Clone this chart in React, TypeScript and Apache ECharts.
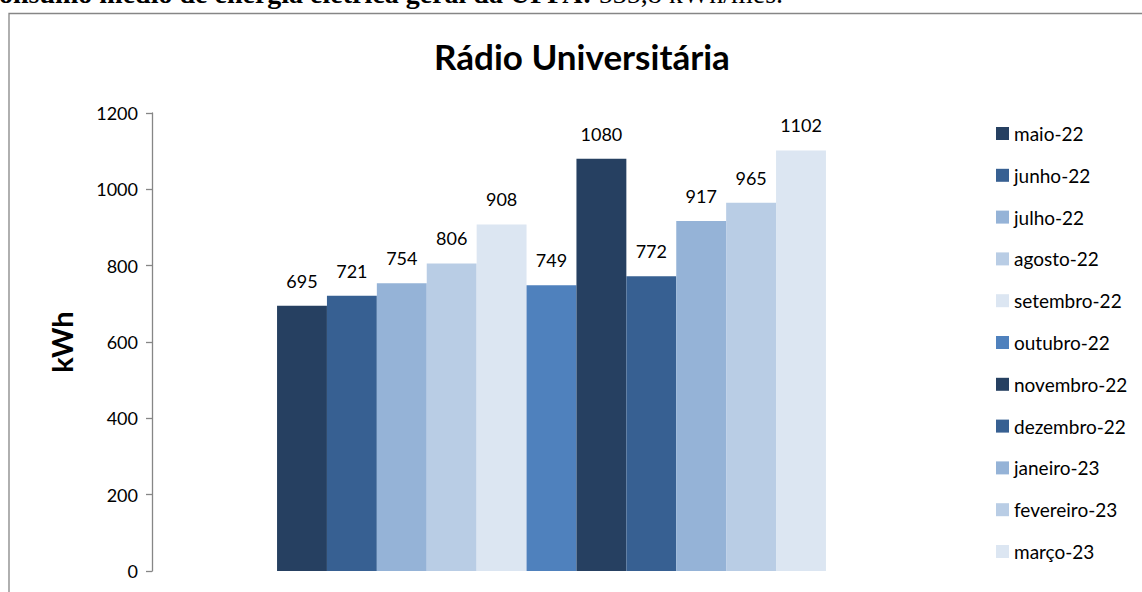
import React, { useEffect, useRef } from "react";
import * as echarts from "echarts";

const months = [
  "maio-22", "junho-22", "julho-22", "agosto-22", "setembro-22", "outubro-22",
  "novembro-22", "dezembro-22", "janeiro-23", "fevereiro-23", "março-23",
];
const values = [695, 721, 754, 806, 908, 749, 1080, 772, 917, 965, 1102];
const colors = [
  "#264061", "#376092", "#95B3D7", "#B9CDE5", "#DCE6F2", "#4F81BD",
  "#264061", "#376092", "#95B3D7", "#B9CDE5", "#DCE6F2",
];
const categories = ["Rádio Universitária"];
const yTicks = { min: 0, max: 1200, interval: 200 };

const FONT = "Lato";

export default function App() {
  const ref = useRef<HTMLDivElement>(null);
  useEffect(() => {
    document.body.style.margin = "0";
    const chart = echarts.init(ref.current!, null, { renderer: "svg" });
    chart.setOption({
      animation: false,
      backgroundColor: "#fff",
      textStyle: { fontFamily: FONT },
      title: {
        text: "Rádio Universitária",
        left: 577,
        top: 33,
        textAlign: "center",
        textStyle: { fontFamily: FONT, fontSize: 35, fontWeight: "bold", color: "#000" },
      },
      graphic: [
        {
          type: "rect",
          shape: { x: 9, y: 13.5, width: 1200, height: 700 },
          style: { fill: "none", stroke: "#868686", lineWidth: 1.3 },
          silent: true,
        },
        {
          type: "text",
          x: -1,
          y: 7,
          style: {
            text: "{b|onsumo médio de energia elétrica geral da UFPA:}{r| 535,8 kWh/mês.}",
            textVerticalAlign: "bottom",
            rich: {
              b: { fontFamily: "Liberation Serif", fontSize: 28, fontWeight: "bold", fill: "#000" },
              r: { fontFamily: "Liberation Serif", fontSize: 28, fill: "#000" },
            },
          },
        },
      ],
      legend: {
        orient: "vertical",
        left: 991,
        top: 119,
        itemWidth: 13,
        itemHeight: 13,
        itemGap: 22.8,
        icon: "rect",
        data: months,
        textStyle: { fontFamily: FONT, fontSize: 19, color: "#000" },
      },
      grid: { left: 152, right: 191, top: 113, bottom: 21, containLabel: false },
      xAxis: {
        type: "category",
        data: categories,
        axisLine: { show: false },
        axisTick: { show: false },
        axisLabel: { show: false },
      },
      yAxis: {
        type: "value",
        min: yTicks.min,
        max: yTicks.max,
        interval: yTicks.interval,
        name: "kWh",
        nameLocation: "middle",
        nameGap: 76,
        nameTextStyle: { fontFamily: FONT, fontSize: 29, fontWeight: "bold", color: "#000" },
        axisLine: { show: true, lineStyle: { color: "#868686", width: 1.3 } },
        axisTick: { show: true, length: 6, lineStyle: { color: "#868686", width: 1.3 } },
        axisLabel: {
          fontFamily: FONT,
          fontSize: 18,
          color: "#000",
          margin: 14,
          formatter: (v: number) => String(v),
        },
        splitLine: { show: false },
      },
      series: months.map((m, i) => ({
        name: m,
        type: "bar",
        data: [values[i]],
        barGap: "0%",
        barCategoryGap: "31.3%",
        itemStyle: { color: colors[i] },
        label: {
          show: true,
          position: "top",
          distance: 16,
          fontFamily: FONT,
          fontSize: 18,
          color: "#000",
        },
      })),
    });
    return () => chart.dispose();
  }, []);
  return <div ref={ref} style={{ width: 1142, height: 592 }} />;
}
